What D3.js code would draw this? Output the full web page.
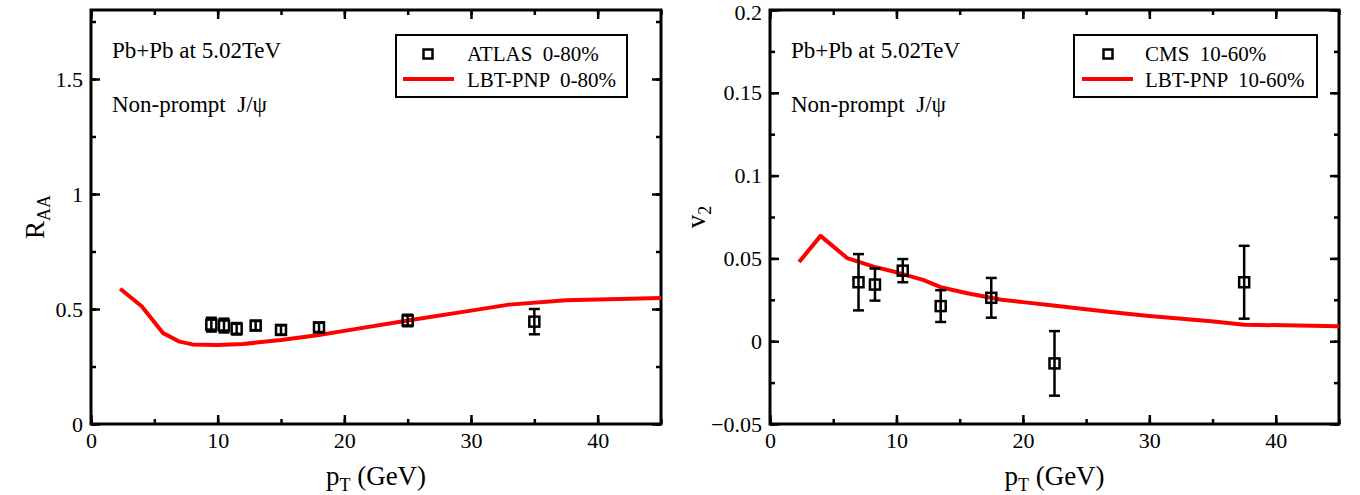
<!DOCTYPE html>
<html>
<head>
<meta charset="utf-8">
<script src="https://cdn.jsdelivr.net/npm/d3@7"></script>
<style>
  body { margin: 0; background: #fff; }
  svg, svg text { font-family: 'Liberation Serif', 'DejaVu Serif', serif; }
</style>
</head>
<body>
<div id="chart"></div>
<script>
// left panel: R_AA, ATLAS 0-80%
const atlasPt = [9.5, 10.5, 11.5, 13, 15, 18, 25, 35];
const atlasRaa = [0.432, 0.428, 0.414, 0.428, 0.409, 0.420, 0.450, 0.445];
const atlasErr = [0.03, 0.03, 0.025, 0.02, 0.02, 0.02, 0.025, 0.055];

const lbtRaaPt = [2.3, 4, 5.7, 7, 8, 10, 12, 15, 18, 20, 25, 30, 33, 37.5, 45];
const lbtRaa = [0.588, 0.512, 0.395, 0.358, 0.346, 0.344, 0.348, 0.365, 0.387, 0.405, 0.450, 0.493, 0.519, 0.538, 0.548];

// right panel: v2, CMS 10-60%
const cmsPt = [7, 8.3, 10.5, 13.5, 17.5, 22.5, 37.5];
const cmsV2 = [0.0356, 0.0342, 0.0426, 0.0212, 0.0262, -0.0134, 0.0356];
const cmsErr = [0.017, 0.0097, 0.007, 0.0096, 0.012, 0.0195, 0.022];

const lbtV2Pt = [2.3, 4, 6.1, 8.2, 10, 12.1, 13.5, 15.6, 18.3, 20, 22.4, 26.9, 30, 34.9, 37.5, 45];
const lbtV2 = [0.0478, 0.0636, 0.0502, 0.045, 0.0416, 0.037, 0.0326, 0.029, 0.025, 0.0236, 0.0216, 0.0176, 0.0152, 0.012, 0.010, 0.009];

const xTicks = [0, 10, 20, 30, 40];
const raaTicks = [0, 0.5, 1, 1.5];
const v2Ticks = [-0.05, 0, 0.05, 0.1, 0.15, 0.2];

const width = 1360;
const height = 495;
const serif = 'Liberation Serif, DejaVu Serif, serif';

const svg = d3.select('#chart')
  .append('svg')
  .attr('width', width)
  .attr('height', height)
  .attr('font-family', serif);

function drawPanel(p) {
  const x = d3.scaleLinear().domain([0, 45]).range([p.left, p.right]);
  const y = d3.scaleLinear().domain(p.yDomain).range([424, 10]);
  const g = svg.append('g').attr('font-family', serif);

  const xMinor = d3.range(0, 45.01, 5);
  const yMinor = d3.range(p.yDomain[0], p.yDomain[1] + 1e-9, p.yMinorStep);

  // inside ticks on all four sides
  const axes = [
    [d3.axisBottom(x), `translate(0,${y.range()[0]})`, true, xTicks, xMinor],
    [d3.axisTop(x), `translate(0,${y.range()[1]})`, false, xTicks, xMinor],
    [d3.axisLeft(y), `translate(${p.left},0)`, true, p.yTicks, yMinor],
    [d3.axisRight(y), `translate(${p.right},0)`, false, p.yTicks, yMinor]
  ];
  axes.forEach(([ax, tr, labels, major, minor]) => {
    g.append('g')
      .attr('transform', tr)
      .call(ax.tickValues(minor).tickSize(-5).tickSizeOuter(0).tickFormat(''))
      .call(s => s.select('.domain').remove())
      .call(s => s.selectAll('line').attr('stroke-width', 2.5));
    const a = g.append('g')
      .attr('transform', tr)
      .call(ax.tickValues(major).tickSize(-9).tickSizeOuter(0).tickPadding(8)
        .tickFormat(labels ? d3.format('') : ''))
      .call(s => s.select('.domain').remove())
      .call(s => s.selectAll('line').attr('stroke-width', 2.5));
    a.attr('font-family', serif).attr('font-size', 22)
      .selectAll('text').attr('fill', '#000').attr('font-family', serif);
    // keep the top label inside the picture
    a.selectAll('.tick text')
      .filter(d => ax.orient === undefined && d === p.yDomain[1] && labels && major === p.yTicks)
      .attr('dy', '0.45em');
  });

  g.append('rect')
    .attr('x', p.left).attr('y', 10)
    .attr('width', p.right - p.left).attr('height', 414)
    .attr('fill', 'none').attr('stroke', '#000').attr('stroke-width', 3);

  // model curve
  g.append('path')
    .datum(p.linePt.map((v, i) => [v, p.lineY[i]]))
    .attr('fill', 'none')
    .attr('stroke', '#ff0000')
    .attr('stroke-width', 4)
    .attr('stroke-linejoin', 'round')
    .attr('d', d3.line().x(d => x(d[0])).y(d => y(d[1])));

  // data with error bars
  const pts = p.dataPt.map((v, i) => ({ x: v, y: p.dataY[i], e: p.dataErr[i] }));
  const eb = g.append('g').attr('stroke', '#000').attr('stroke-width', 2.5);
  pts.forEach(d => {
    const cx = x(d.x), y0 = y(d.y - d.e), y1 = y(d.y + d.e);
    eb.append('line').attr('x1', cx).attr('x2', cx).attr('y1', y0).attr('y2', y1);
    eb.append('line').attr('x1', cx - 5.5).attr('x2', cx + 5.5).attr('y1', y0).attr('y2', y0);
    eb.append('line').attr('x1', cx - 5.5).attr('x2', cx + 5.5).attr('y1', y1).attr('y2', y1);
  });
  g.append('g')
    .selectAll('rect')
    .data(pts)
    .join('rect')
      .attr('x', d => x(d.x) - 5)
      .attr('y', d => y(d.y) - 5)
      .attr('width', 10).attr('height', 10)
      .attr('fill', 'none').attr('stroke', '#000').attr('stroke-width', 2.5);

  // annotations
  g.append('text').attr('x', p.left + 21).attr('y', 58).attr('font-size', 23)
    .text('Pb+Pb at 5.02TeV');
  g.append('text').attr('x', p.left + 21).attr('y', 112).attr('font-size', 23)
    .attr('xml:space', 'preserve')
    .text('Non-prompt  J/\u03c8');

  // legend
  const lg = p.legend;
  g.append('rect')
    .attr('x', lg.x0).attr('y', 35).attr('width', lg.x1 - lg.x0).attr('height', 62)
    .attr('fill', '#fff').attr('stroke', '#000').attr('stroke-width', 2);
  g.append('rect')
    .attr('x', lg.marker - 4.5).attr('y', 54 - 4.5).attr('width', 9).attr('height', 9)
    .attr('fill', 'none').attr('stroke', '#000').attr('stroke-width', 2.5);
  g.append('line')
    .attr('x1', lg.line[0]).attr('x2', lg.line[1]).attr('y1', 79).attr('y2', 79)
    .attr('stroke', '#ff0000').attr('stroke-width', 4);
  g.append('text').attr('x', lg.text).attr('y', 61).attr('font-size', 21)
    .attr('xml:space', 'preserve').text(lg.labels[0]);
  g.append('text').attr('x', lg.text).attr('y', 87).attr('font-size', 21)
    .attr('xml:space', 'preserve').text(lg.labels[1]);

  // axis titles
  const xt = g.append('text')
    .attr('x', (p.left + p.right) / 2).attr('y', 485)
    .attr('text-anchor', 'middle').attr('font-size', 27);
  xt.append('tspan').text('p');
  xt.append('tspan').attr('font-size', 18).attr('dy', 6).text('T');
  xt.append('tspan').attr('dy', -6).text(' (GeV)');

  const yt = g.append('text')
    .attr('transform', `translate(${p.titleX},217) rotate(-90)`)
    .attr('text-anchor', 'middle').attr('font-size', 27);
  yt.append('tspan').text(p.yTitle[0]);
  yt.append('tspan').attr('font-size', 18).attr('dy', 6).text(p.yTitle[1]);
}

drawPanel({
  left: 91, right: 661,
  yDomain: [0, 1.8], yMinorStep: 0.25, yTicks: raaTicks,
  linePt: lbtRaaPt, lineY: lbtRaa,
  dataPt: atlasPt, dataY: atlasRaa, dataErr: atlasErr,
  legend: { x0: 396, x1: 627, marker: 428, line: [403, 454], text: 467,
    labels: ['ATLAS  0-80%', 'LBT-PNP  0-80%'] },
  titleX: 44, yTitle: ['R', 'AA']
});

drawPanel({
  left: 770, right: 1339,
  yDomain: [-0.05, 0.2], yMinorStep: 0.025, yTicks: v2Ticks,
  linePt: lbtV2Pt, lineY: lbtV2,
  dataPt: cmsPt, dataY: cmsV2, dataErr: cmsErr,
  legend: { x0: 1074, x1: 1317, marker: 1108, line: [1082, 1133], text: 1145,
    labels: ['CMS  10-60%', 'LBT-PNP  10-60%'] },
  titleX: 705, yTitle: ['v', '2']
});
</script>
</body>
</html>
